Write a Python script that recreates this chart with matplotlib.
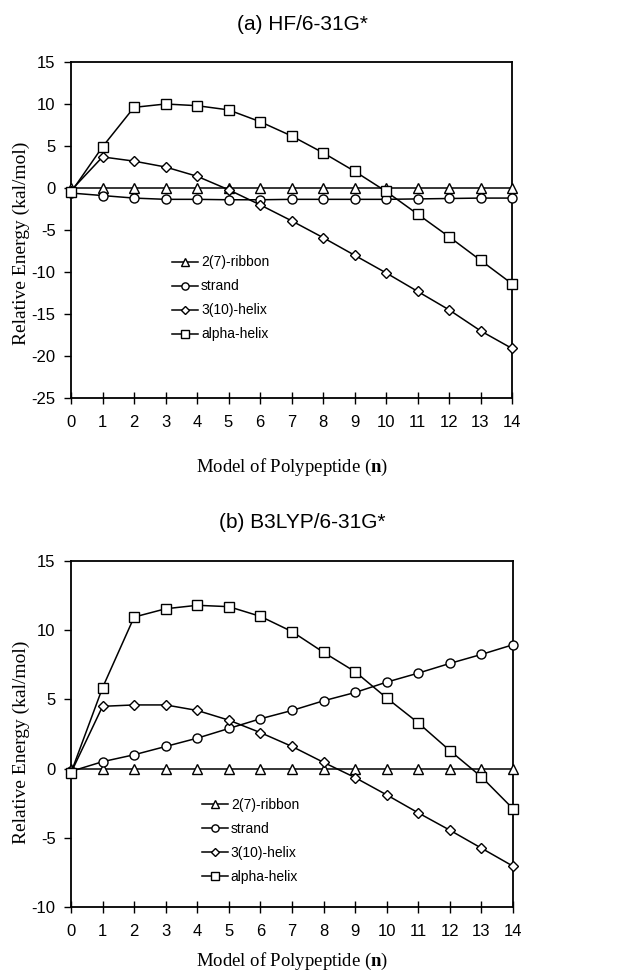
import matplotlib.pyplot as plt

n = list(range(15))

# (a) HF/6-31G*
hf_ribbon = [0.0] * 15
hf_strand = [-0.6, -0.9, -1.2, -1.35, -1.35, -1.4, -1.4, -1.35, -1.35, -1.35, -1.35, -1.3, -1.25, -1.2, -1.2]
hf_310 = [-0.3, 3.7, 3.2, 2.5, 1.4, -0.2, -2.0, -3.9, -5.9, -8.0, -10.1, -12.3, -14.5, -17.0, -19.1]
hf_alpha = [-0.5, 4.9, 9.6, 10.0, 9.8, 9.3, 7.9, 6.2, 4.2, 2.0, -0.4, -3.1, -5.8, -8.6, -11.4]

# (b) B3LYP/6-31G*
b3_ribbon = [0.0] * 15
b3_strand = [-0.2, 0.5, 1.0, 1.6, 2.2, 2.9, 3.6, 4.2, 4.9, 5.5, 6.25, 6.9, 7.6, 8.25, 8.95]
b3_310 = [-0.3, 4.5, 4.6, 4.6, 4.2, 3.5, 2.6, 1.6, 0.45, -0.65, -1.9, -3.2, -4.45, -5.75, -7.05]
b3_alpha = [-0.3, 5.85, 10.95, 11.55, 11.8, 11.7, 11.0, 9.9, 8.4, 7.0, 5.1, 3.3, 1.3, -0.6, -2.9]

labels = ["2(7)-ribbon", "strand", "3(10)-helix", "alpha-helix"]
markers = ["^", "o", "D", "s"]
msizes = [6.5, 6.5, 5, 7]

sans = "Liberation Sans"
serif = "Liberation Serif"

plt.rcParams["mathtext.fontset"] = "custom"
plt.rcParams["mathtext.bf"] = "Liberation Serif:bold"

fig = plt.figure(figsize=(6.29, 9.72), dpi=100)
W, H = 629, 972


def make_axes(left, top, right, bottom):
    return fig.add_axes([left / W, 1 - bottom / H, (right - left) / W, (bottom - top) / H])


def panel(ax, series, ylim, yticks, title, leg_anchor, title_y, xlabel_y, ylabel_y):
    for vals, lab, m, ms in zip(series, labels, markers, msizes):
        ax.plot(n, vals, color="black", lw=1.1, marker=m, ms=ms, mfc="white",
                mec="black", mew=1.0, label=lab, clip_on=False, zorder=3)
    ax.set_xlim(0, 14)
    ax.set_ylim(*ylim)
    ax.set_xticks(n)
    ax.set_yticks(yticks)
    ax.set_xticklabels([str(i) for i in n], fontfamily=sans, fontsize=12)
    ax.set_yticklabels([str(t) for t in yticks], fontfamily=sans, fontsize=12)
    ax.tick_params(axis="x", direction="inout", length=8, width=1, pad=8)
    ax.tick_params(axis="y", direction="out", length=5, width=1, pad=6)
    for s in ax.spines.values():
        s.set_linewidth(1.3)
    fig.text(21 / W, 1 - ylabel_y / H, "Relative Energy (kal/mol)", fontfamily=serif,
             fontsize=14, rotation=90, ha="center", va="center")
    fig.text(292 / W, 1 - xlabel_y / H, "Model of Polypeptide ($\\mathbf{n}$)",
             fontfamily=serif, fontsize=13.5, ha="center", va="center")
    fig.text(302 / W, 1 - title_y / H, title, fontfamily=sans, fontsize=15,
             ha="center", va="center")
    ax.legend(loc="upper left", bbox_to_anchor=leg_anchor, frameon=False,
              prop={"family": sans, "size": 10}, handlelength=1.9, markerscale=0.8,
              handletextpad=0.2, labelspacing=0.72, borderpad=0)


ax1 = make_axes(71, 62, 512, 398)
panel(ax1, [hf_ribbon, hf_strand, hf_310, hf_alpha], (-25, 15),
      [15, 10, 5, 0, -5, -10, -15, -20, -25], "(a) HF/6-31G*", (0.213, 0.445), 25, 467, 243)

ax2 = make_axes(71, 561, 513, 907)
panel(ax2, [b3_ribbon, b3_strand, b3_310, b3_alpha], (-10, 15),
      [15, 10, 5, 0, -5, -10], "(b) B3LYP/6-31G*", (0.28, 0.335), 522, 961, 742)

fig.savefig("out.png", dpi=100)
